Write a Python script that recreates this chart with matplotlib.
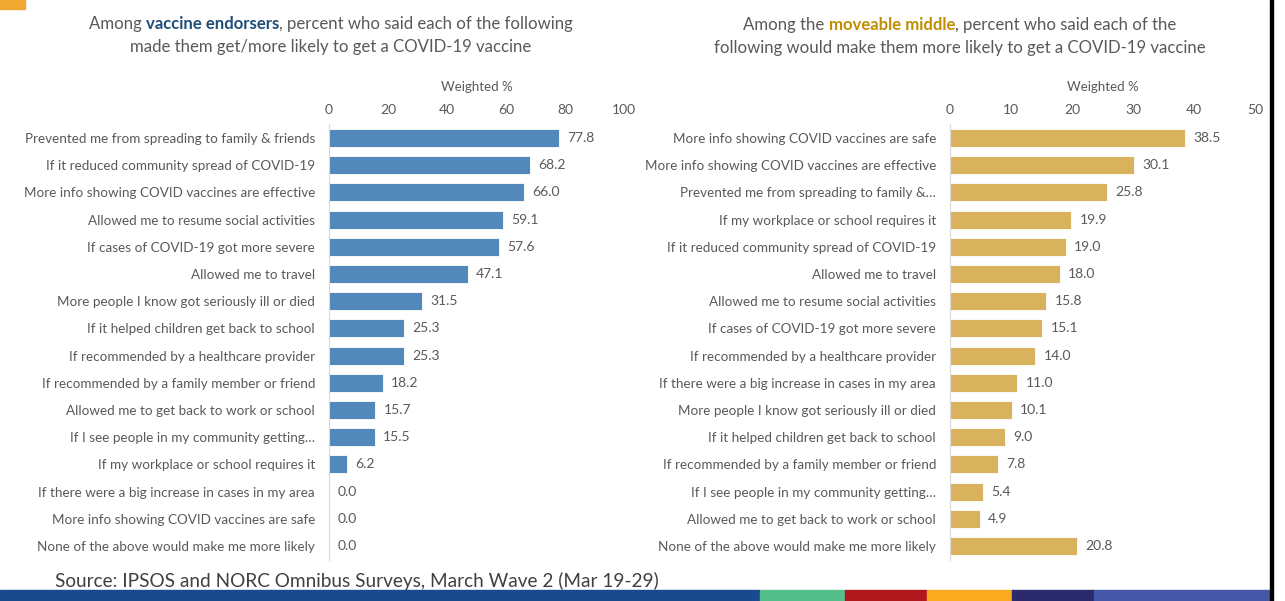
import matplotlib
matplotlib.use("Agg")
import matplotlib.pyplot as plt
from matplotlib.patches import Rectangle

plt.rcParams['font.family'] = ['Lato', 'DejaVu Sans']

# left panel: vaccine endorsers
left_labels = ["Prevented me from spreading to family & friends",
               "If it reduced community spread of COVID-19",
               "More info showing COVID vaccines are effective",
               "Allowed me to resume social activities",
               "If cases of COVID-19 got more severe",
               "Allowed me to travel",
               "More people I know got seriously ill or died",
               "If it helped children get back to school",
               "If recommended by a healthcare provider",
               "If recommended by a family member or friend",
               "Allowed me to get back to work or school",
               "If I see people in my community getting\u2026",
               "If my workplace or school requires it",
               "If there were a big increase in cases in my area",
               "More info showing COVID vaccines are safe",
               "None of the above would make me more likely"]
left_vals = [77.8, 68.2, 66.0, 59.1, 57.6, 47.1, 31.5, 25.3, 25.3, 18.2, 15.7, 15.5, 6.2, 0.0, 0.0, 0.0]
left_ticks = [0, 20, 40, 60, 80, 100]

# right panel: moveable middle
right_labels = ["More info showing COVID vaccines are safe",
                "More info showing COVID vaccines are effective",
                "Prevented me from spreading to family &\u2026",
                "If my workplace or school requires it",
                "If it reduced community spread of COVID-19",
                "Allowed me to travel",
                "Allowed me to resume social activities",
                "If cases of COVID-19 got more severe",
                "If recommended by a healthcare provider",
                "If there were a big increase in cases in my area",
                "More people I know got seriously ill or died",
                "If it helped children get back to school",
                "If recommended by a family member or friend",
                "If I see people in my community getting\u2026",
                "Allowed me to get back to work or school",
                "None of the above would make me more likely"]
right_vals = [38.5, 30.1, 25.8, 19.9, 19.0, 18.0, 15.8, 15.1, 14.0, 11.0, 10.1, 9.0, 7.8, 5.4, 4.9, 20.8]
right_ticks = [0, 10, 20, 30, 40, 50]

gray = '#595959'
W, H = 1285, 601
fig = plt.figure(figsize=(W / 100, H / 100), dpi=100)


def fx(px):
    return px / W


def fy(py):
    return 1 - py / H


def panel(x0, x1, labels, vals, ticks, color):
    ax = fig.add_axes([fx(x0), fy(559.6), fx(x1) - fx(x0), fy(124.4) - fy(559.6)])
    y = range(len(vals))
    ax.barh(y, vals, height=0.66, color=color, edgecolor='white', linewidth=0.6)
    ax.set_ylim(len(vals) - 0.5, -0.5)
    ax.set_xlim(ticks[0], ticks[-1])
    ax.set_xticks(ticks)
    ax.set_yticks(list(y))
    ax.set_yticklabels(labels)
    ax.xaxis.tick_top()
    ax.xaxis.set_label_position('top')
    ax.set_xlabel('Weighted %', fontsize=9.5, color=gray, labelpad=9.5)
    ax.tick_params(axis='x', length=0, labelsize=10, labelcolor=gray, pad=6)
    ax.tick_params(axis='y', length=0, labelsize=9.7, labelcolor=gray, pad=10)
    for s in ['top', 'right', 'bottom']:
        ax.spines[s].set_visible(False)
    ax.spines['left'].set_color('#d9d9d9')
    for i, v in enumerate(vals):
        ax.annotate(f'{v:.1f}', (v, i), xytext=(6, 0), textcoords='offset points',
                    va='center', ha='left', fontsize=10, color=gray)
    return ax


panel(329, 624, left_labels, left_vals, left_ticks, '#5289BA')
panel(950, 1255, right_labels, right_vals, right_ticks, '#D9B25D')

renderer = fig.canvas.get_renderer()


def rich_line(parts, cx, py, size=12.1):
    texts = []
    for s, c, w in parts:
        t = fig.text(0, fy(py), s, color=c, fontweight=w, fontsize=size, va='center', ha='left')
        texts.append(t)
    widths = [t.get_window_extent(renderer).width for t in texts]
    x = cx - sum(widths) / 2
    for t, w in zip(texts, widths):
        t.set_x(fx(x))
        x += w


rich_line([("Among ", gray, 'normal'), ("vaccine endorsers", '#1F4E79', 'bold'),
           (", percent who said each of the following", gray, 'normal')], 331, 24)
rich_line([("made them get/more likely to get a COVID-19 vaccine", gray, 'normal')], 331, 47)
rich_line([("Among the ", gray, 'normal'), ("moveable middle", '#BF8F00', 'bold'),
           (", percent who said each of the", gray, 'normal')], 960, 25)
rich_line([("following would make them more likely to get a COVID-19 vaccine", gray, 'normal')], 960, 48)

fig.text(fx(55), fy(581), "Source: IPSOS and NORC Omnibus Surveys, March Wave 2 (Mar 19-29)",
         fontsize=13.7, color='#404040', va='center', ha='left')

# decorations: corner tab, bottom colour band, right border
fig.patches.append(Rectangle((0, fy(9)), fx(25), 9 / H, color='#F0A830',
                             transform=fig.transFigure, figure=fig))
band = [(0, 760, '#1A4A8E'), (760, 845, '#55BF8C'), (845, 927, '#B0181D'),
        (927, 1012, '#F9AA1E'), (1012, 1094, '#2A2A6C'), (1094, 1270, '#4656A6')]
for a, b, c in band:
    fig.patches.append(Rectangle((fx(a), 0), fx(b - a), 11 / H, color=c,
                                 transform=fig.transFigure, figure=fig))
fig.patches.append(Rectangle((fx(1270), 0), fx(2.5), 1, color='black',
                             transform=fig.transFigure, figure=fig))

fig.savefig('out.png', dpi=100)
